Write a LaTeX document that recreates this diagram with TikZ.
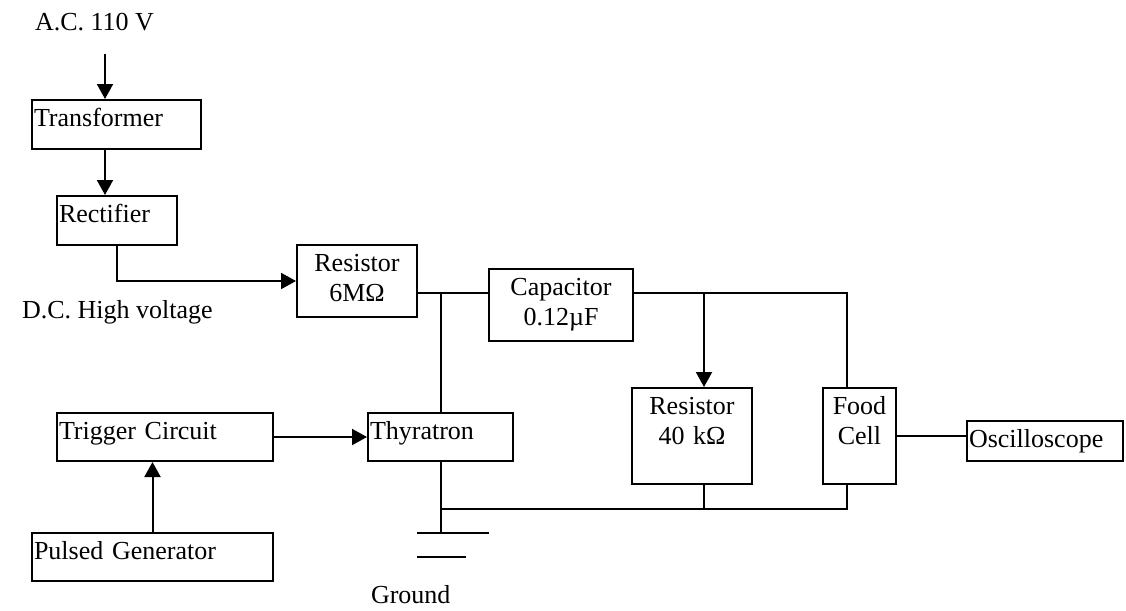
\documentclass[tikz,border=0pt]{standalone}
\usepackage{fontspec}
\setmainfont{Liberation Serif}
\usepackage{tikz}
\usetikzlibrary{arrows.meta}

\begin{document}
\begin{tikzpicture}[x=1pt,y=-1pt,line width=2pt,
  every node/.style={font=\fontsize{26}{30}\selectfont},
  box/.style={draw,line width=2pt,inner sep=2pt,text height=24pt},
  lbox/.style={box,align=left},
  cbox/.style={box,align=center},
  lbl/.style={inner sep=0pt,anchor=base west},
  arr/.style={-{Triangle[length=15pt,width=16pt]}}]
  \useasboundingbox (0,0) rectangle (1126,610);
  % boxes
  \node[lbox,text width=165pt,text depth=21pt] (trans) at (116.5,124.5) {Transformer};
  \node[lbox,text width=116pt,text depth=21pt] (rect) at (117,220.5) {Rectifier};
  \node[cbox,text width=116pt,text depth=44pt] (res6) at (357,281) {Resistor\\6MΩ};
  \node[cbox,text width=140pt,text depth=44pt] (cap) at (561,305) {Capacitor\\0.12µF};
  \node[lbox,text width=141pt,text depth=20pt] (thy) at (440.5,437) {Thyratron};
  \node[lbox,text width=212pt,text depth=20pt] (trig) at (165,437) {Trigger Circuit};
  \node[lbox,text width=237pt,text depth=20pt] (pulse) at (152.5,557) {Pulsed Generator};
  \node[cbox,text width=116pt,text depth=68pt] (res40) at (692,436) {Resistor\\40 kΩ};
  \node[cbox,text width=69pt,text depth=68pt] (food) at (859.5,436) {Food\\Cell};
  \node[lbox,text width=152pt,text depth=12pt] (osc) at (1045,441) {Oscilloscope};
  % free labels
  \node[lbl] (ac) at (34,31) {A.C. 110 V};
  \node[lbl] (dc) at (21,318) {D.C. High voltage};
  \node[lbl] (gtext) at (370,603) {Ground};
  % junctions
  \coordinate (acin) at (105,54);
  \coordinate (j1) at (441,293);
  \coordinate (j2) at (704,293);
  \coordinate (j3) at (847,293);
  \coordinate (g0) at (441,509);
  \coordinate (gnd) at (441,533);
  % connectors
  \draw[arr] (acin) -- (acin |- trans.north);
  \draw[arr] (trans.south -| acin) -- (rect.north -| acin);
  \draw[arr] (rect.south) |- (res6.west);
  \draw (res6.east |- j1) -- (cap.west |- j1);
  \draw (j1) -- (thy.north -| j1);
  \draw (cap.east |- j1) -| (food.north -| j3);
  \draw[arr] (j2) -- (res40.north -| j2);
  \draw (food.east) -- (food.east -| osc.west);
  \draw[arr] (trig) -- (thy);
  \draw[arr] (pulse.north) -- (pulse.north |- trig.south);
  \draw (thy.south -| j1) -- (gnd);
  \draw (g0) -| (food.south -| j3);
  \draw (res40.south -| j2) -- (g0 -| j2);
  % ground
  \draw ([xshift=-24pt]gnd) -- ([xshift=48pt]gnd);
  \draw ([xshift=-24pt,yshift=-24pt]gnd) -- ([xshift=25pt,yshift=-24pt]gnd);
\end{tikzpicture}
\end{document}
